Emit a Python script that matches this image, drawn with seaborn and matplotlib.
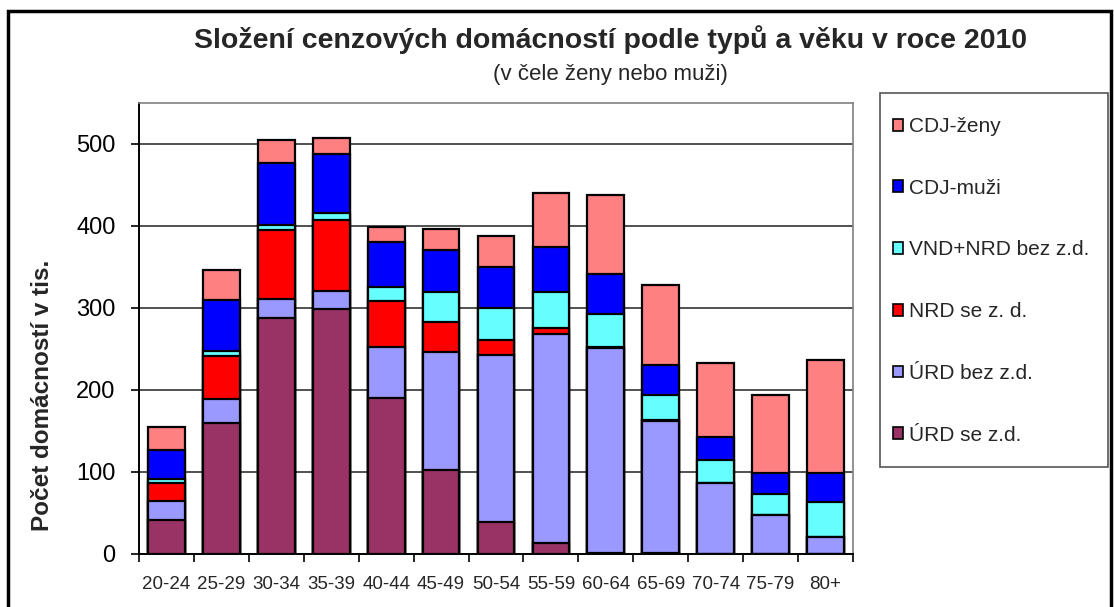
import pandas as pd
import numpy as np
import matplotlib.pyplot as plt
import seaborn as sns
from matplotlib.patches import Patch, Rectangle
plt.switch_backend("Agg")

ages = ["20-24", "25-29", "30-34", "35-39", "40-44", "45-49", "50-54",
        "55-59", "60-64", "65-69", "70-74", "75-79", "80+"]

# values in thousands, bottom to top
urd_se = [42, 160, 288, 298, 190, 102, 39, 14, 1, 1, 0, 0, 0]
urd_bez = [23, 29, 23, 22, 62, 144, 204, 254, 250, 161, 86, 47, 21]
nrd_se = [22, 52, 84, 87, 56, 37, 18, 8, 1, 1, 0, 0, 0]
vnd_nrd_bez = [5, 7, 6, 8, 17, 36, 39, 43, 40, 31, 28, 26, 42]
cdj_muzi = [35, 62, 76, 72, 55, 52, 50, 55, 49, 36, 28, 26, 36]
cdj_zeny = [28, 36, 28, 20, 18, 25, 37, 66, 97, 98, 91, 95, 138]

series = ["ÚRD se z.d.", "ÚRD bez z.d.", "NRD se z. d.", "VND+NRD bez z.d.", "CDJ-muži", "CDJ-ženy"]
colors = ["#993366", "#9999FF", "#FF0000", "#66FFFF", "#0000FF", "#FF8080"]

df = pd.DataFrame({
    "age": ages,
    series[0]: urd_se,
    series[1]: urd_bez,
    series[2]: nrd_se,
    series[3]: vnd_nrd_bez,
    series[4]: cdj_muzi,
    series[5]: cdj_zeny,
})
cum = df[series].cumsum(axis=1)

sns.set_style("white")
plt.rcParams["font.family"] = ["Liberation Sans", "DejaVu Sans"]

fig = plt.figure(figsize=(11.14, 6.07), dpi=100)
ax = fig.add_axes([139 / 1114, 1 - 554 / 607, (853 - 139) / 1114, (554 - 102.7) / 607])

# stacked bars: draw cumulative totals from the top layer down
for name, col in zip(series[::-1], colors[::-1]):
    sns.barplot(x=df["age"], y=cum[name], color=col, width=0.67,
                edgecolor="black", linewidth=1.6, saturation=1, ax=ax, zorder=3)

ax.set_ylim(0, 550)
ax.set_xlim(-0.5, len(ages) - 0.5)
ax.set_yticks([0, 100, 200, 300, 400, 500])
ax.yaxis.grid(True, color="#333333", linewidth=1.2, zorder=0)
ax.set_axisbelow(True)
ax.set_xlabel("")
ax.set_ylabel("")

for s in ["top", "right"]:
    ax.spines[s].set_color("#808080")
    ax.spines[s].set_linewidth(1.2)
for s in ["left", "bottom"]:
    ax.spines[s].set_color("black")
    ax.spines[s].set_linewidth(1.4)

ax.tick_params(axis="y", labelsize=17, left=True, length=6, width=1.2, pad=11, colors="black")
ax.tick_params(axis="x", labelsize=13.5, bottom=False, pad=12)
ax.set_xticks(np.arange(-0.5, len(ages), 1), minor=True)
ax.tick_params(axis="x", which="minor", bottom=True, length=6, width=1.2, color="black")

fig.text(0.548, 0.934, "Složení cenzových domácností podle typů a věku v roce 2010",
         ha="center", va="center", fontsize=20.5, fontweight="bold")
fig.text(0.548, 0.878, "(v čele ženy nebo muži)", ha="center", va="center", fontsize=16)
fig.text(43 / 1114, 1 - 395 / 607, "Počet domácností v tis.", rotation=90,
         ha="center", va="center", fontsize=17.5, fontweight="bold")

# legend box
fig.patches.append(Rectangle((880 / 1114, 1 - 467 / 607), 228 / 1114, 374 / 607,
                             transform=fig.transFigure, fill=True, facecolor="white",
                             edgecolor="#555555", linewidth=1.2, zorder=1))
handles = [Patch(facecolor=c, edgecolor="black", linewidth=1.2, label=n)
           for n, c in zip(series[::-1], colors[::-1])]
leg = fig.legend(handles=handles, loc="upper left",
                 bbox_to_anchor=(893 / 1114, 1 - 117 / 607),
                 fontsize=15, frameon=False,
                 handlelength=0.5, handleheight=0.5, handletextpad=0.25,
                 labelspacing=2.05, borderpad=0, borderaxespad=0)
leg.set_zorder(5)

fig.patches.append(Rectangle((8 / 1114, -0.05), 1 - 11 / 1114, 1.05 - 11 / 607,
                             transform=fig.transFigure, fill=False,
                             edgecolor="black", linewidth=2.5))

fig.savefig("out.png", dpi=100)
